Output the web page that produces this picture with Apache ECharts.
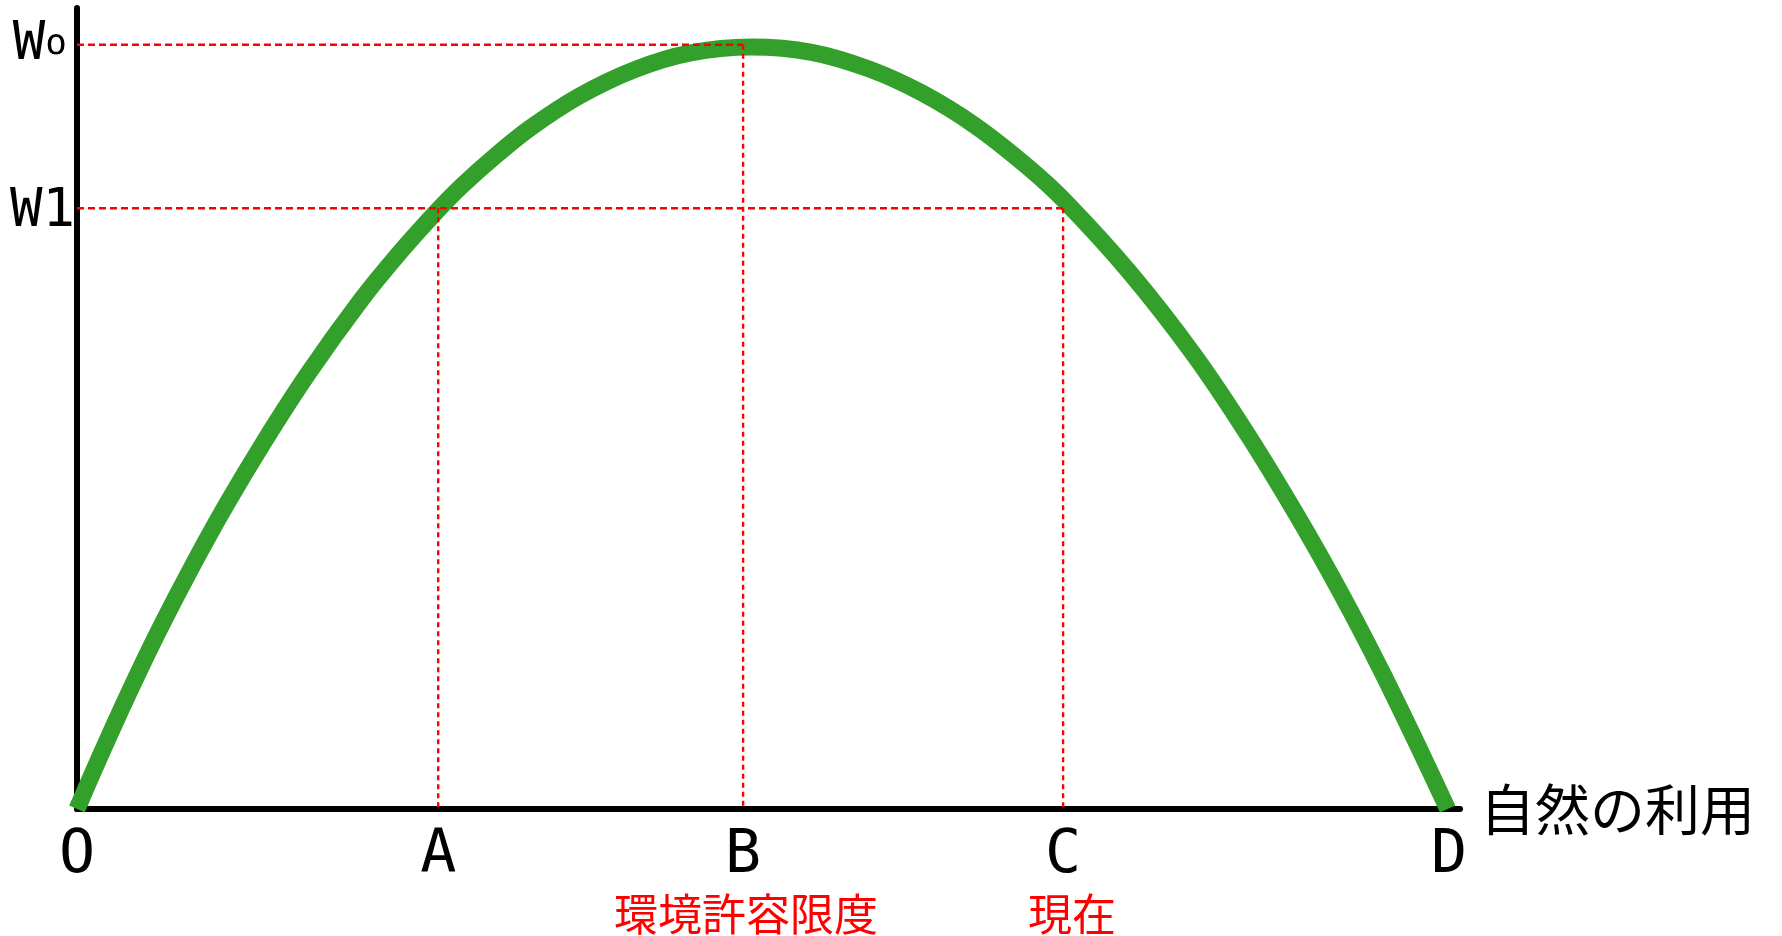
<!DOCTYPE html>
<html><head><meta charset="utf-8">
<script src="https://cdn.jsdelivr.net/npm/echarts@6/dist/echarts.min.js"></script>
<style>html,body{margin:0;padding:0;background:#fff}#c{width:1782px;height:936px}</style>
</head><body><div id="c"></div>
<script>
// Curve: x = use of nature, y = welfare
const curveX = [0, 1.7, 3.8, 6.0, 8.4, 10.9, 13.6, 16.8, 20.6, 23.5, 26.3, 28.0, 30.5, 33.0, 36.6, 40.7, 44.6, 49.1,
                53.5, 57.7, 61.5, 65.4, 69.3, 72.0, 76.7, 81.3, 85.2, 88.9, 92.1, 95.0, 98.0, 99.8];
const curveY = [0, 7.0, 15.3, 23.5, 31.8, 39.9, 48.0, 56.9, 66.4, 72.8, 78.4, 81.5, 85.5, 89.1, 93.3, 96.8, 98.9, 99.7,
                99.0, 96.8, 93.7, 89.4, 83.9, 79.4, 70.1, 59.5, 49.1, 38.2, 28.0, 18.0, 6.9, 0];

// Tick positions and labels
const xTickValues = [0, 26.3, 48.5, 71.8, 99.9];
const xTickLabels = ['O', 'A', 'B', 'C', 'D'];
const xSubLabels = ['', '', '環境許容限度', '現在', ''];
const yTickValues = [100, 78.6];
const yTickMain = ['W', 'W'];
const yTickSub = ['o', '1'];
const xAxisName = '自然の利用';

const W0 = yTickValues[0], W1 = yTickValues[1];
const A = xTickValues[1], B = xTickValues[2], C = xTickValues[3];

const MONO = "'DejaVu Sans Mono','Liberation Mono',monospace";
const CJK = "'Noto Sans CJK JP','Noto Sans CJK SC',sans-serif";

function idxOf(arr, v) { for (let i = 0; i < arr.length; i++) if (Math.abs(arr[i] - v) < 1e-6) return i; return -1; }

function guide(data, dash) {
  return { type: 'line', data: data, symbol: 'none', silent: true, z: 5,
    lineStyle: { color: '#ff0000', width: 2.4, type: dash }, animation: false };
}

const chart = echarts.init(document.getElementById('c'), null, { renderer: 'canvas' });
chart.setOption({
  backgroundColor: '#ffffff',
  animation: false,
  grid: { left: 77, right: 322, top: 8, bottom: 121, containLabel: false },
  xAxis: {
    type: 'value', min: 0, max: 100.7,
    splitLine: { show: false },
    axisTick: { show: false },
    axisLine: { lineStyle: { color: '#000', width: 6 } },
    name: xAxisName, nameLocation: 'end', nameGap: 20,
    nameTextStyle: { fontSize: 55, color: '#000', fontFamily: CJK, verticalAlign: 'middle' },
    axisLabel: {
      customValues: xTickValues, margin: 17,
      formatter: function (v) {
        const i = idxOf(xTickValues, v); if (i < 0) return '';
        if (!xSubLabels[i]) return '{l|' + xTickLabels[i] + '}';
        return '{l|' + xTickLabels[i] + '}\n{' + (i === 3 ? 'r2' : 'r') + '|' + xSubLabels[i] + '}';
      },
      rich: {
        l: { fontSize: 60, lineHeight: 60, color: '#000', fontFamily: MONO },
        r: { fontSize: 44, lineHeight: 56, color: '#ff0000', fontFamily: CJK, padding: [0, 0, 0, 6] },
        r2: { fontSize: 44, lineHeight: 56, color: '#ff0000', fontFamily: CJK, padding: [0, 0, 0, 18] }
      }
    }
  },
  yAxis: {
    type: 'value', min: 0, max: 104.8,
    splitLine: { show: false },
    axisTick: { show: false },
    axisLine: { lineStyle: { color: '#000', width: 6 } },
    axisLabel: {
      customValues: yTickValues, margin: 2,
      formatter: function (v) {
        const i = idxOf(yTickValues, v); if (i < 0) return '';
        return i === 0 ? '{w|' + yTickMain[i] + '}{s|' + yTickSub[i] + '}'
                       : '{w1|' + yTickMain[i] + '}{n|' + yTickSub[i] + '}';
      },
      rich: {
        w: { fontSize: 54, color: '#000', fontFamily: MONO },
        w1: { fontSize: 54, color: '#000', fontFamily: MONO, padding: [8, 0, 0, 0] },
        n: { fontSize: 54, color: '#000', fontFamily: MONO, padding: [8, 0, 0, 0] },
        s: { fontSize: 36, color: '#000', fontFamily: MONO, padding: [0, 8, 0, 0] }
      }
    }
  },
  series: [
    {
      type: 'line', data: curveX.map((x, i) => [x, curveY[i]]),
      symbol: 'none', smooth: 0.3, z: 3, clip: true,
      lineStyle: { color: '#34a02c', width: 17, cap: 'butt' }
    },
    guide([[0, W0], [B, W0]], [7, 4]),
    guide([[0, W1], [C, W1]], [7, 4]),
    guide([[A, W1], [A, 0]], [5, 4]),
    guide([[B, W0], [B, 0]], [5, 4]),
    guide([[C, W1], [C, 0]], [5, 4])
  ]
});
</script>
</body></html>
